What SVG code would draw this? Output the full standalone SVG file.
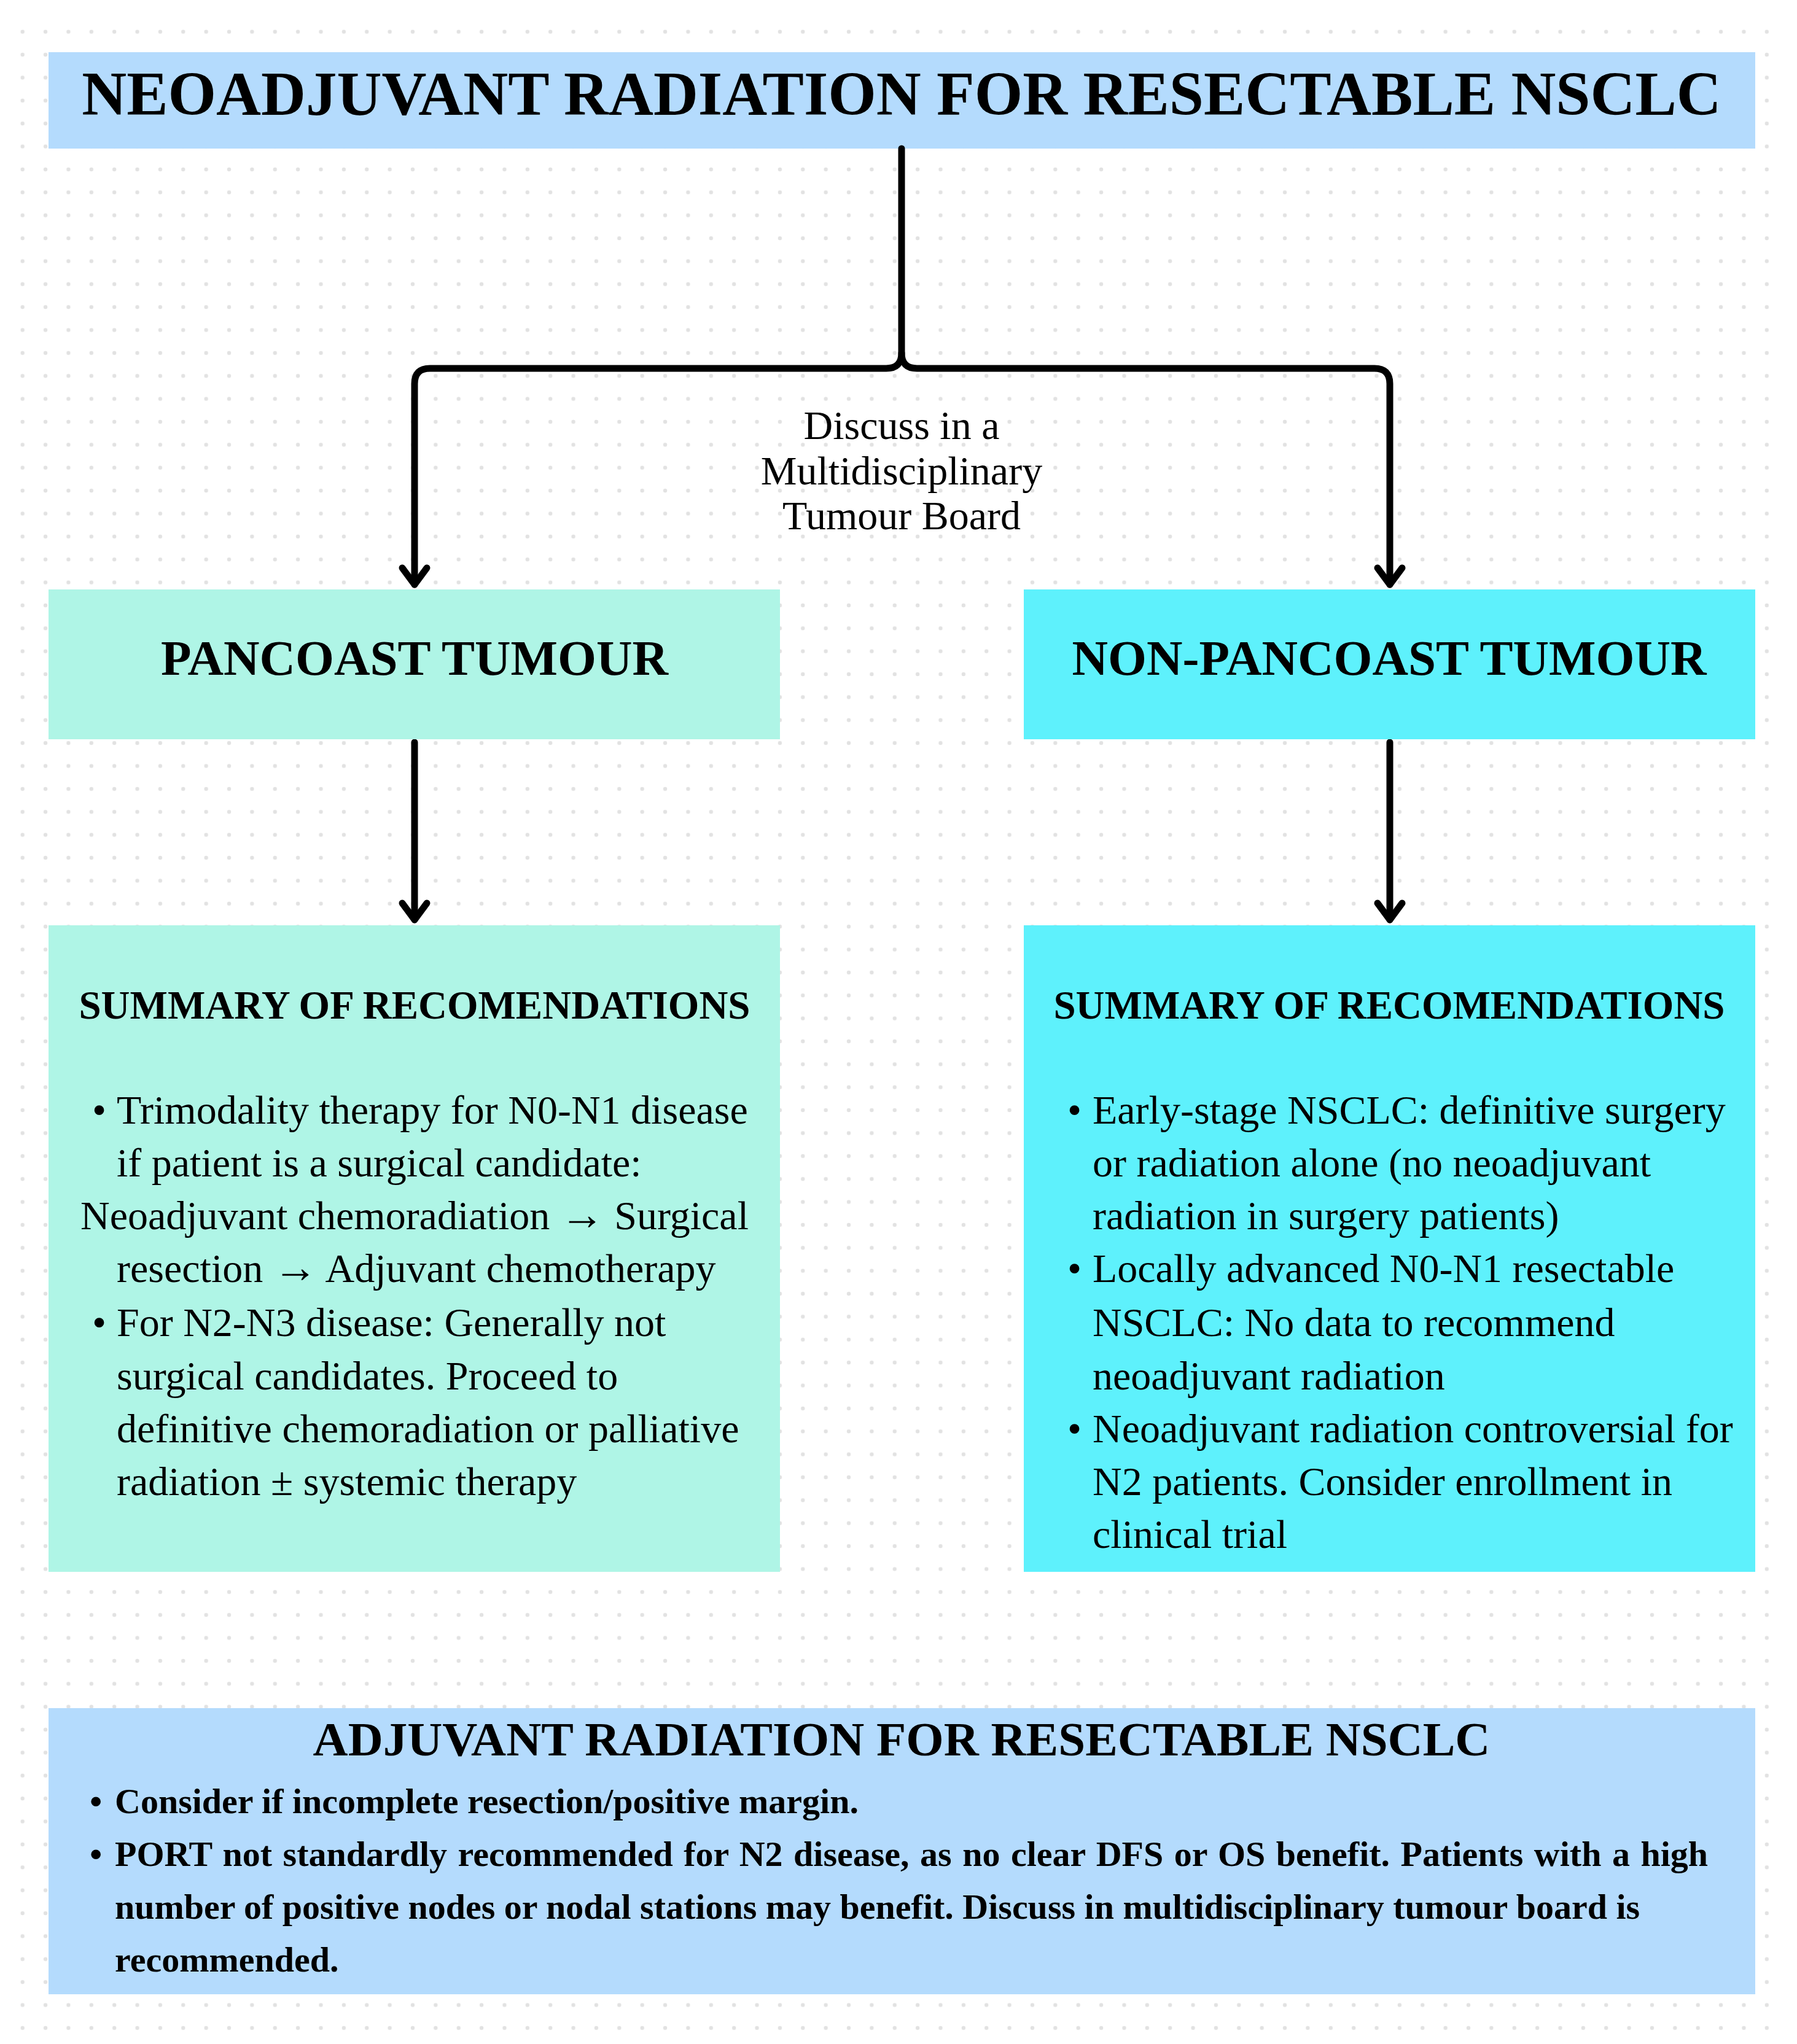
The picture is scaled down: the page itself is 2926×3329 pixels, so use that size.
<svg xmlns="http://www.w3.org/2000/svg" width="2926" height="3329" viewBox="0 0 2926 3329">
  <defs>
    <pattern id="dots" patternUnits="userSpaceOnUse" x="18" y="33" width="37.37" height="37.37">
      <circle cx="18.7" cy="18.7" r="3.2" fill="#e2e2e2"/>
    </pattern>
    <marker id="chev" markerUnits="userSpaceOnUse" viewBox="-35 -30 45 60" markerWidth="45" markerHeight="60" refX="0" refY="0" orient="auto" overflow="visible">
      <path d="M-27,-20 L0,0 L-27,20" fill="none" stroke="#000" stroke-width="11" stroke-linecap="round" stroke-linejoin="round"/>
    </marker>
    <style>
      text { font-family: "Liberation Serif", "Times New Roman", serif; fill: #000; }
      .h1 { font-size: 101px; font-weight: bold; text-anchor: middle; }
      .h2 { font-size: 81px; font-weight: bold; text-anchor: middle; }
      .h3 { font-size: 65px; font-weight: bold; text-anchor: middle; }
      .h4 { font-size: 79px; font-weight: bold; text-anchor: middle; }
      .body { font-size: 66px; }
      .arr { font-size: 72px; }
      .label { font-size: 66px; text-anchor: middle; }
      .bold { font-size: 58px; font-weight: bold; }
      .conn { fill: none; stroke: #000; stroke-width: 11; stroke-linecap: round; stroke-linejoin: round; }
      .blue { fill: #b4dbfd; }
      .mint { fill: #aff5e6; }
      .cyan { fill: #5ef1fc; }
    </style>
  </defs>

  <rect width="2926" height="3329" fill="#ffffff"/>
  <rect x="20" y="35" width="2880" height="3275" fill="url(#dots)"/>

  <g id="title">
    <rect class="blue" x="79" y="85" width="2779" height="157"/>
    <text class="h1" x="1468" y="187">NEOADJUVANT RADIATION FOR RESECTABLE NSCLC</text>
  </g>

  <g id="connectors">
    <path class="conn" d="M1468,242 V575 Q1468,600 1443,600 H700 Q675,600 675,625 V952" marker-end="url(#chev)"/>
    <path class="conn" d="M1468,575 Q1468,600 1493,600 H2238 Q2263,600 2263,625 V952" marker-end="url(#chev)"/>
    <path class="conn" d="M675,1209 V1498" marker-end="url(#chev)"/>
    <path class="conn" d="M2263,1209 V1498" marker-end="url(#chev)"/>
    <g id="board-label">
      <text class="label" x="1468" y="715">Discuss in a</text>
      <text class="label" x="1468" y="789">Multidisciplinary</text>
      <text class="label" x="1468" y="862">Tumour Board</text>
    </g>
  </g>

  <g id="pancoast">
    <rect class="mint" x="79" y="960" width="1191" height="244"/>
    <text class="h2" x="675" y="1099">PANCOAST TUMOUR</text>
  </g>

  <g id="non-pancoast">
    <rect class="cyan" x="1667" y="960" width="1191" height="244"/>
    <text class="h2" x="2262" y="1099">NON-PANCOAST TUMOUR</text>
  </g>

  <g id="pancoast-summary">
    <rect class="mint" x="79" y="1507" width="1191" height="1053"/>
    <text class="h3" x="675" y="1659">SUMMARY OF RECOMENDATIONS</text>
    <text class="body" x="150" y="1830">•</text>
    <text class="body" x="190" y="1830">Trimodality therapy for N0-N1 disease</text>
    <text class="body" x="190" y="1916">if patient is a surgical candidate:</text>
    <text class="body" x="131" y="2002">Neoadjuvant chemoradiation <tspan class="arr">→</tspan> Surgical</text>
    <text class="body" x="190" y="2088">resection <tspan class="arr">→</tspan> Adjuvant chemotherapy</text>
    <text class="body" x="150" y="2176">•</text>
    <text class="body" x="190" y="2176">For N2-N3 disease: Generally not</text>
    <text class="body" x="190" y="2263">surgical candidates. Proceed to</text>
    <text class="body" x="190" y="2349">definitive chemoradiation or palliative</text>
    <text class="body" x="190" y="2435">radiation ± systemic therapy</text>
  </g>

  <g id="non-pancoast-summary">
    <rect class="cyan" x="1667" y="1507" width="1191" height="1053"/>
    <text class="h3" x="2262" y="1659">SUMMARY OF RECOMENDATIONS</text>
    <text class="body" x="1738" y="1830">•</text>
    <text class="body" x="1779" y="1830">Early-stage NSCLC: definitive surgery</text>
    <text class="body" x="1779" y="1916">or radiation alone (no neoadjuvant</text>
    <text class="body" x="1779" y="2002">radiation in surgery patients)</text>
    <text class="body" x="1738" y="2088">•</text>
    <text class="body" x="1779" y="2088">Locally advanced N0-N1 resectable</text>
    <text class="body" x="1779" y="2176">NSCLC: No data to recommend</text>
    <text class="body" x="1779" y="2263">neoadjuvant radiation</text>
    <text class="body" x="1738" y="2349">•</text>
    <text class="body" x="1779" y="2349">Neoadjuvant radiation controversial for</text>
    <text class="body" x="1779" y="2435">N2 patients. Consider enrollment in</text>
    <text class="body" x="1779" y="2521">clinical trial</text>
  </g>

  <g id="adjuvant">
    <rect class="blue" x="79" y="2782" width="2779" height="466"/>
    <text class="h4" x="1468" y="2859">ADJUVANT RADIATION FOR RESECTABLE NSCLC</text>
    <text class="bold" x="146" y="2953">•</text>
    <text class="bold" x="187" y="2953">Consider if incomplete resection/positive margin.</text>
    <text class="bold" x="146" y="3039">•</text>
    <text class="bold" x="187" y="3039" word-spacing="3">PORT not standardly recommended for N2 disease, as no clear DFS or OS benefit. Patients with a high</text>
    <text class="bold" x="187" y="3125">number of positive nodes or nodal stations may benefit. Discuss in multidisciplinary tumour board is</text>
    <text class="bold" x="187" y="3211">recommended.</text>
  </g>
</svg>
